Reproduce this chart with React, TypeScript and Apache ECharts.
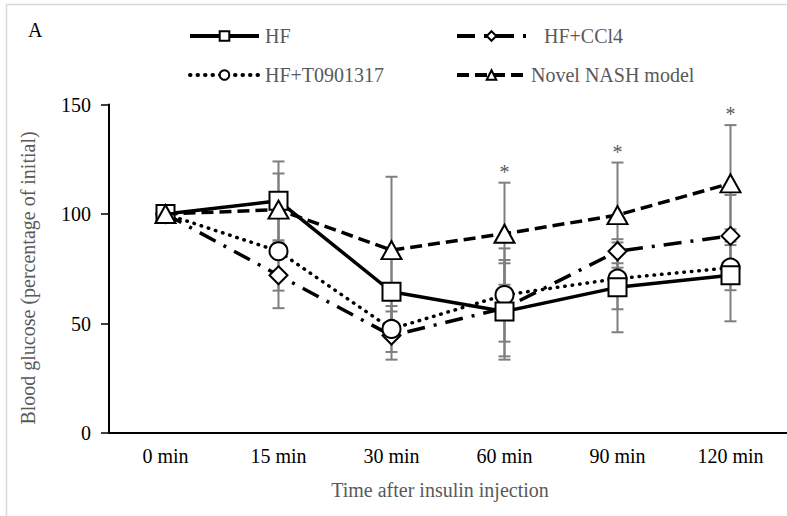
import React, { useEffect, useRef } from "react";
import * as echarts from "echarts";

const categories = ["0 min", "15 min", "30 min", "60 min", "90 min", "120 min"];
const hfValues = [100, 106, 64.5, 55.5, 66.5, 72];
const ccl4Values = [100, 72, 44.5, 57, 83, 90];
const t09Values = [100, 83, 47.5, 63, 70.5, 75.5];
const nashValues = [100, 102, 83.5, 91, 99.5, 114];
const hfErr = [0, 18, 19, 22, 20.5, 21];
const ccl4Err = [0, 15, 11, 22, 5.5, 18.7];
const t09Err = [0, 18, 10.5, 21.3, 14, 10.3];
const nashErr = [0, 16.5, 33.5, 23.3, 24, 26.6];
const starIndices = [3, 4, 5];
const yTicks = [0, 50, 100, 150];

const FONT = "Liberation Serif";

export default function App() {
  const ref = useRef<HTMLDivElement>(null);
  useEffect(() => {
    document.body.style.margin = "0";
    const chart = echarts.init(ref.current!, null, { renderer: "svg" });

    const errData: number[][] = [];
    const groups = [
      [hfValues, hfErr],
      [ccl4Values, ccl4Err],
      [t09Values, t09Err],
      [nashValues, nashErr],
    ];
    groups.forEach(([vals, errs]) => {
      vals.forEach((v, i) => {
        if (errs[i] > 0) errData.push([i, v - errs[i], v + errs[i]]);
      });
    });
    const starData = starIndices.map((i) => [i, nashValues[i] + nashErr[i]]);

    const marker = { color: "#fff", borderColor: "#000", borderWidth: 2 };
    const labelStyle = { fontFamily: FONT, fontSize: 20, color: "#595959" };
    const legendItem = (name: string, left: number, top: number, pad: number) => ({
      orient: "horizontal",
      left,
      top,
      itemWidth: 69,
      itemHeight: 12,
      textStyle: { ...labelStyle, padding: [0, 0, 0, pad] },
      lineStyle: { width: 4 },
      itemStyle: { borderWidth: 2 },
      data: [name],
    });

    chart.setOption({
      animation: false,
      backgroundColor: "#fff",
      grid: { left: 109, top: 104.5, width: 684, height: 328.5 },
      legend: [
        legendItem("HF", 183, 21, 1),
        legendItem("HF+T0901317", 183, 60, 1),
        legendItem("HF+CCl4", 450, 21, 13),
        legendItem("Novel NASH model", 450, 60, 0),
      ],
      xAxis: {
        type: "category",
        data: categories,
        boundaryGap: true,
        axisLine: { lineStyle: { color: "#000", width: 2 } },
        axisTick: { alignWithLabel: true, length: 5, lineStyle: { color: "#000", width: 1.5 } },
        axisLabel: { color: "#000", fontFamily: FONT, fontSize: 20, margin: 13 },
        splitLine: { show: false },
      },
      yAxis: {
        type: "value",
        min: yTicks[0],
        max: yTicks[yTicks.length - 1],
        interval: 50,
        axisLine: { show: true, lineStyle: { color: "#000", width: 2 } },
        axisTick: { show: true, length: 8, lineStyle: { color: "#000", width: 1.5 } },
        axisLabel: { color: "#000", fontFamily: FONT, fontSize: 20, margin: 18 },
        splitLine: { show: false },
      },
      graphic: [
        {
          type: "rect",
          shape: { x: 6.5, y: 4.5, width: 900, height: 700 },
          style: { fill: "none", stroke: "#d9d9d9", lineWidth: 1.5 },
          silent: true,
        },
        {
          type: "text",
          x: 28,
          y: 30,
          style: { text: "A", font: `20px ${FONT}`, fill: "#000", textVerticalAlign: "middle" },
        },
        {
          type: "text",
          x: 28,
          y: 278,
          rotation: Math.PI / 2,
          style: {
            text: "Blood glucose (percentage of initial)",
            font: `20px ${FONT}`,
            fill: "#595959",
            textAlign: "center",
            textVerticalAlign: "middle",
          },
        },
        {
          type: "text",
          x: 440,
          y: 490,
          style: {
            text: "Time after insulin injection",
            font: `20px ${FONT}`,
            fill: "#595959",
            textAlign: "center",
            textVerticalAlign: "middle",
          },
        },
      ],
      series: [
        {
          type: "custom",
          name: "err",
          z: 1,
          silent: true,
          data: errData,
          renderItem: (params: any, api: any) => {
            const x = api.value(0);
            const top = api.coord([x, api.value(2)]);
            const bot = api.coord([x, api.value(1)]);
            const st = { stroke: "#7f7f7f", lineWidth: 2 };
            const hw = 6;
            return {
              type: "group",
              children: [
                { type: "line", shape: { x1: top[0], y1: top[1], x2: bot[0], y2: bot[1] }, style: st },
                { type: "line", shape: { x1: top[0] - hw, y1: top[1], x2: top[0] + hw, y2: top[1] }, style: st },
                { type: "line", shape: { x1: bot[0] - hw, y1: bot[1], x2: bot[0] + hw, y2: bot[1] }, style: st },
              ],
            };
          },
        },
        {
          type: "custom",
          name: "stars",
          z: 1,
          silent: true,
          data: starData,
          renderItem: (params: any, api: any) => {
            const p = api.coord([api.value(0), api.value(1)]);
            return {
              type: "text",
              x: p[0],
              y: p[1] - 11,
              style: {
                text: "*",
                font: `20px ${FONT}`,
                fill: "#595959",
                textAlign: "center",
                textVerticalAlign: "middle",
              },
            };
          },
        },
        {
          type: "line",
          name: "HF+CCl4",
          data: ccl4Values,
          z: 3,
          symbol: "diamond",
          symbolSize: 18,
          showAllSymbol: true,
          lineStyle: { color: "#000", width: 3.5, type: [18, 9, 3, 9] },
          itemStyle: marker,
        },
        {
          type: "line",
          name: "HF+T0901317",
          data: t09Values,
          z: 3,
          symbol: "circle",
          symbolSize: 18,
          showAllSymbol: true,
          lineStyle: { color: "#000", width: 3.5, type: [0.5, 7], cap: "round" },
          itemStyle: marker,
        },
        {
          type: "line",
          name: "HF",
          data: hfValues,
          z: 4,
          symbol: "rect",
          symbolSize: 18,
          showAllSymbol: true,
          lineStyle: { color: "#000", width: 3.5, type: "solid" },
          itemStyle: marker,
        },
        {
          type: "line",
          name: "Novel NASH model",
          data: nashValues,
          z: 5,
          symbol: "triangle",
          symbolSize: [20, 18],
          showAllSymbol: true,
          lineStyle: { color: "#000", width: 3.5, type: [12, 6] },
          itemStyle: marker,
        },
      ],
    });
    return () => chart.dispose();
  }, []);
  return <div ref={ref} style={{ width: 787, height: 516 }} />;
}
